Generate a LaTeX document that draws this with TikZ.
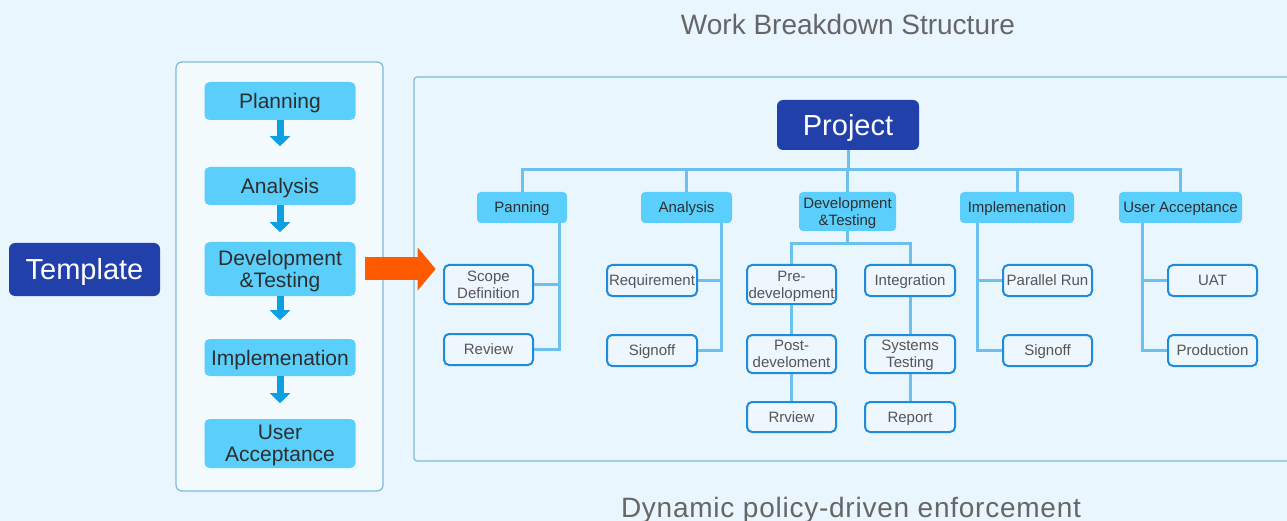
\documentclass[tikz,border=0pt]{standalone}
\usepackage{fontspec}
\setmainfont{Liberation Sans}
\usetikzlibrary{arrows.meta}
\definecolor{bgc}{HTML}{E9F6FE}
\definecolor{darkblue}{HTML}{2140AA}
\definecolor{cyanfill}{HTML}{5BCFFB}
\definecolor{leafline}{HTML}{1E8BDB}
\definecolor{leaffill}{HTML}{EEF6FE}
\definecolor{connc}{HTML}{6CC0EE}
\definecolor{panelc}{HTML}{7FB8D8}
\definecolor{flowc}{HTML}{0BA0E2}
\definecolor{orangec}{HTML}{FF5A00}
\definecolor{txtdark}{HTML}{2E2E2E}
\definecolor{txtgray}{HTML}{555555}
\definecolor{titlec}{HTML}{666666}
\tikzset{
  darkbox/.style={fill=darkblue, rounded corners=6pt, text=white, inner sep=0pt, align=center,
    font=\fontsize{29}{29}\selectfont, text height=20.8pt, text depth=0pt},
  lbox/.style={fill=cyanfill, rounded corners=5pt, text=txtdark, inner sep=0pt, align=center,
    minimum width=151pt, font=\fontsize{21}{21.5}\selectfont, text depth=0pt},
  lone/.style={text height=15pt},
  cbox/.style={fill=cyanfill, rounded corners=4pt, text=txtdark, inner sep=0pt, align=center,
    minimum height=31pt, font=\fontsize{15}{16.5}\selectfont, text depth=0pt},
  sone/.style={text height=10.7pt},
  leaf/.style={draw=leafline, line width=2pt, fill=leaffill, rounded corners=5pt, text=txtgray,
    inner sep=0pt, align=center, minimum width=89pt, minimum height=31pt,
    font=\fontsize{15}{17}\selectfont, text depth=0pt},
  conn/.style={draw=connc, line width=3pt},
  vflow/.style={draw=flowc, line width=7pt, -{Triangle[width=20pt,length=10pt]}},
  bigarrow/.style={draw=orangec, line width=23pt, -{Triangle[width=42pt,length=18pt]}},
  titletext/.style={text=titlec, inner sep=0pt, anchor=base,
    font=\fontsize{28}{28}\selectfont},
}
\begin{document}
\begin{tikzpicture}[x=1pt,y=-1pt]
\useasboundingbox (0,0) rectangle (1287,521);
\fill[bgc] (0,0) rectangle (1287,521);

% titles
\node[titletext] (ttop) at (848,35) {Work Breakdown Structure};
\node[titletext, font=\fontsize{28}{28}\selectfont\addfontfeature{LetterSpace=2.7}] (tbot) at (851,517) {Dynamic policy-driven enforcement};

% left side
\node[darkbox, minimum width=151pt, minimum height=53pt] (tmpl) at (84.5,269.5) {Template};
\draw[panelc, line width=1.2pt, rounded corners=6pt, fill=bgc!60!white] (176,62) rectangle (383,491);
\node[lbox, lone, minimum height=38pt] (planL) at (280,101) {Planning};
\node[lbox, lone, minimum height=38pt] (anaL) at (280,186) {Analysis};
\node[lbox, minimum height=54pt] (devL) at (280,269) {Development\\\&Testing};
\node[lbox, lone, minimum height=37pt] (impL) at (280,357.5) {Implemenation};
\node[lbox, minimum height=49pt] (uaL) at (280,443.5) {User\\Acceptance};

\draw[vflow] (planL.south) -- ++(0,26);
\draw[vflow] (anaL.south) -- ++(0,27);
\draw[vflow] (devL.south) -- ++(0,24);
\draw[vflow] (impL.south) -- ++(0,27);

% right panel
\draw[panelc!85!connc, line width=1.2pt] (1287,77) -- (417,77) arc[start angle=90,end angle=180,radius=3pt] -- (414,458) arc[start angle=180,end angle=270,radius=3pt] -- (1287,461);

\draw[bigarrow] ([xshift=9pt]devL.east) -- ++(71,0);

% project and level 2
\node[darkbox, minimum width=142pt, minimum height=50pt] (proj) at (848,125) {Project};
\node[cbox, sone, minimum width=90pt] (pan) at (522,207.5) {Panning};
\node[cbox, sone, minimum width=91pt] (ana) at (686.5,207.5) {Analysis};
\node[cbox, minimum width=97pt, minimum height=39pt] (dev) at (847.5,211.5) {Development\\\&Testing};
\node[cbox, sone, minimum width=114pt] (imp) at (1017,207.5) {Implemenation};
\node[cbox, sone, minimum width=123pt] (ua) at (1180.5,207.5) {User Acceptance};

% level 3
\node[leaf, minimum height=39pt] (scope) at (488.5,284.5) {Scope\\Definition};
\node[leaf, sone] (review) at (488.5,349.5) {Review};
\node[leaf, sone, minimum width=90pt] (req) at (652,280.5) {Requirement};
\node[leaf, sone, minimum width=90pt] (sign1) at (652,350.5) {Signoff};
\node[leaf, minimum height=39pt] (pre) at (791.5,284.5) {Pre-\\development};
\node[leaf, minimum height=38pt] (post) at (791.5,354) {Post-\\develoment};
\node[leaf, sone, minimum height=30pt] (rrv) at (791.5,417) {Rrview};
\node[leaf, sone, minimum width=90pt] (integ) at (910,280.5) {Integration};
\node[leaf, minimum width=90pt, minimum height=38pt] (sys) at (910,354) {Systems\\Testing};
\node[leaf, sone, minimum width=90pt, minimum height=30pt] (rep) at (910,417) {Report};
\node[leaf, sone] (par) at (1047.5,280.5) {Parallel Run};
\node[leaf, sone] (sign2) at (1047.5,350.5) {Signoff};
\node[leaf, sone] (uat) at (1212.5,280.5) {UAT};
\node[leaf, sone] (prod) at (1212.5,350.5) {Production};

% connectors project -> level 2
\foreach \c in {pan,ana,dev,imp,ua}
  \draw[conn] (proj.south) -- ++(0,19) -| (\c.north);

% level 2 -> level 3
\draw[conn] ([xshift=-8pt]pan.south east) |- (scope.east);
\draw[conn] ([xshift=-8pt]pan.south east) |- (review.east);
\draw[conn] ([xshift=-11pt]ana.south east) |- (req.east);
\draw[conn] ([xshift=-11pt]ana.south east) |- (sign1.east);
\draw[conn] (dev.south) -- ++(0,12) -| (pre.north);
\draw[conn] (dev.south) -- ++(0,12) -| (integ.north);
\draw[conn] (pre) -- (post);
\draw[conn] (post) -- (rrv);
\draw[conn] (integ) -- (sys);
\draw[conn] (sys) -- (rep);
\draw[conn] ([xshift=18pt]imp.south west) |- (par.west);
\draw[conn] ([xshift=18pt]imp.south west) |- (sign2.west);
\draw[conn] ([xshift=24pt]ua.south west) |- (uat.west);
\draw[conn] ([xshift=24pt]ua.south west) |- (prod.west);
\end{tikzpicture}
\end{document}
